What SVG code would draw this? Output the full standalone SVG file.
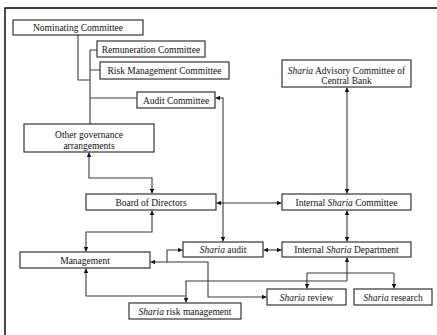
<svg xmlns="http://www.w3.org/2000/svg" width="437" height="335" viewBox="0 0 437 335">
  <style>
    .box { fill: #fff; stroke: #222; stroke-width: 1.1; }
    .lbl { font-family: "Liberation Serif", "Times New Roman", serif; font-size: 9.5px; fill: #111; text-anchor: middle; }
    .it { font-style: italic; }
    .wire { fill: none; stroke: #3a3a3a; stroke-width: 1.1; }
    .frame { fill: none; stroke: #000; stroke-width: 1.4; }
  </style>
  <defs>
    <marker id="ah" viewBox="0 0 6 6" refX="6" refY="3" markerWidth="4.5" markerHeight="4.5" orient="auto-start-reverse" markerUnits="userSpaceOnUse">
      <path d="M0,0 L6,3 L0,6 Z" fill="#111"/>
    </marker>
  </defs>

  <rect width="437" height="335" fill="#fff"/>
  <path class="frame" d="M5,335 V8 H437"/>

  <g id="connectors">
    <!-- committee tree -->
    <path class="wire" d="M78,35 V80 H90 M90,50 V124 M90,50 H97 M90,70 H100 M90,98 H137"/>
    <!-- audit committee to sharia audit -->
    <path class="wire" d="M215.5,98 H223 V241.5" marker-start="url(#ah)" marker-end="url(#ah)"/>
    <!-- other governance to board -->
    <path class="wire" d="M89,152.5 V178 H152 V193.5" marker-start="url(#ah)" marker-end="url(#ah)"/>
    <!-- board to internal sharia committee -->
    <path class="wire" d="M216.5,203 H281.5" marker-start="url(#ah)" marker-end="url(#ah)"/>
    <!-- advisory committee to internal sharia committee -->
    <path class="wire" d="M347,87.5 V193.5" marker-start="url(#ah)" marker-end="url(#ah)"/>
    <!-- internal sharia committee to department -->
    <path class="wire" d="M347,210.5 V241.5" marker-start="url(#ah)" marker-end="url(#ah)"/>
    <!-- board to management -->
    <path class="wire" d="M152,210.5 V232 H86 V251.5" marker-start="url(#ah)" marker-end="url(#ah)"/>
    <!-- sharia audit to department -->
    <path class="wire" d="M263.5,250 H281.5" marker-start="url(#ah)" marker-end="url(#ah)"/>
    <!-- management to sharia audit -->
    <path class="wire" d="M150.5,262 H167 V250 H182.5" marker-start="url(#ah)" marker-end="url(#ah)"/>
    <!-- management to sharia review -->
    <path class="wire" d="M167,262 H208 V297 H266.5" marker-end="url(#ah)"/>
    <!-- department to review and research -->
    <path class="wire" d="M347,257.5 V281" marker-start="url(#ah)"/>
    <path class="wire" d="M307,273 H394"/>
    <path class="wire" d="M307,273 V288.5" marker-end="url(#ah)"/>
    <path class="wire" d="M394,273 V288.5" marker-end="url(#ah)"/>
    <!-- department to risk management and management -->
    <path class="wire" d="M347,281 H186 V302.5" marker-end="url(#ah)"/>
    <path class="wire" d="M186,296 H86 V268.5" marker-end="url(#ah)"/>
  </g>

  <g id="nominating">
    <rect class="box" x="13" y="20" width="130" height="15"/>
    <text class="lbl" x="78" y="31">Nominating Committee</text>
  </g>
  <g id="remuneration">
    <rect class="box" x="97" y="41" width="108" height="16"/>
    <text class="lbl" x="151" y="52.5">Remuneration Committee</text>
  </g>
  <g id="risk-committee">
    <rect class="box" x="100" y="62" width="129" height="17"/>
    <text class="lbl" x="164.5" y="74">Risk Management Committee</text>
  </g>
  <g id="audit-committee">
    <rect class="box" x="137" y="92" width="78" height="16"/>
    <text class="lbl" x="176" y="103.5">Audit Committee</text>
  </g>
  <g id="other-governance">
    <rect class="box" x="24" y="124" width="130" height="28"/>
    <text class="lbl" x="89" y="137.5">Other governance</text>
    <text class="lbl" x="89" y="148.5">arrangements</text>
  </g>
  <g id="board">
    <rect class="box" x="86" y="194" width="130" height="16"/>
    <text class="lbl" x="151" y="205.5">Board of Directors</text>
  </g>
  <g id="advisory">
    <rect class="box" x="282" y="60" width="129" height="27"/>
    <text class="lbl" x="346.5" y="74"><tspan class="it">Sharia</tspan> Advisory Committee of</text>
    <text class="lbl" x="346.5" y="84">Central Bank</text>
  </g>
  <g id="internal-committee">
    <rect class="box" x="282" y="194" width="129" height="16"/>
    <text class="lbl" x="346.5" y="205.5">Internal <tspan class="it">Sharia</tspan> Committee</text>
  </g>
  <g id="internal-department">
    <rect class="box" x="282" y="242" width="129" height="15"/>
    <text class="lbl" x="346.5" y="253">Internal <tspan class="it">Sharia</tspan> Department</text>
  </g>
  <g id="sharia-audit">
    <rect class="box" x="183" y="242" width="80" height="15"/>
    <text class="lbl" x="223" y="253"><tspan class="it">Sharia</tspan> audit</text>
  </g>
  <g id="management">
    <rect class="box" x="20" y="252" width="130" height="16"/>
    <text class="lbl" x="85" y="263.5">Management</text>
  </g>
  <g id="sharia-review">
    <rect class="box" x="267" y="289" width="79" height="16"/>
    <text class="lbl" x="306.5" y="300.5"><tspan class="it">Sharia</tspan> review</text>
  </g>
  <g id="sharia-research">
    <rect class="box" x="354" y="289" width="78" height="16"/>
    <text class="lbl" x="393" y="300.5"><tspan class="it">Sharia</tspan> research</text>
  </g>
  <g id="risk-management">
    <rect class="box" x="129" y="303" width="112" height="16"/>
    <text class="lbl" x="185" y="314.5"><tspan class="it">Sharia</tspan> risk management</text>
  </g>
</svg>
